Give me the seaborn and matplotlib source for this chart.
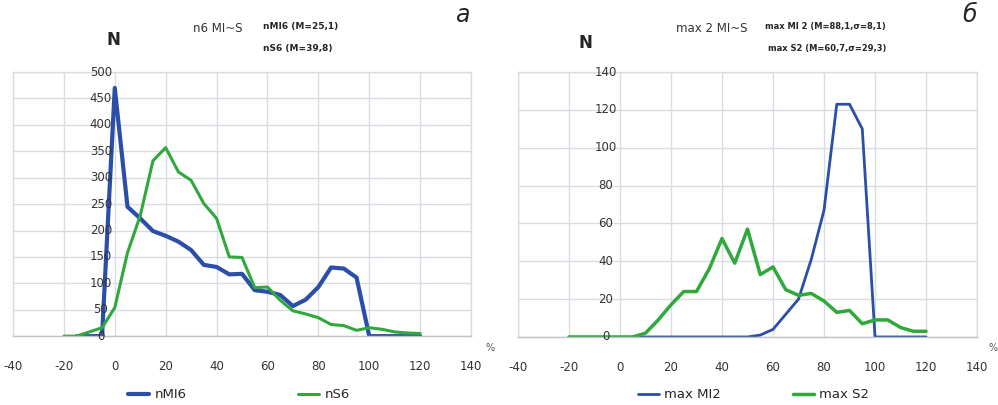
import numpy as np
import pandas as pd
import seaborn as sns
import matplotlib.pyplot as plt

# x values (%), step 5
x_a = list(range(-20, 125, 5))
x_b = list(range(-20, 125, 5))

# panel a
nmi6_x = list(range(-15, 125, 5))
nmi6 = [0, 0, 0, 470, 245, 223, 199, 190, 179, 163, 135, 131, 117, 118, 87, 84, 78, 57,
        69, 93, 130, 128, 111, 0, 0, 0, 0, 0]
ns6 = [0, 0, 8, 16, 54, 158, 228, 332, 357, 311, 295, 251, 223, 150, 149, 92, 93, 68,
       48, 42, 35, 22, 20, 11, 16, 13, 8, 6, 5]

# panel b
maxmi2_x = list(range(5, 125, 5))
maxmi2 = [0, 0, 0, 0, 0, 0, 0, 0, 0, 0, 1, 4, 12, 20, 41, 67, 123, 123, 110, 0, 0, 0, 0, 0]
maxs2 = [0, 0, 0, 0, 0, 0, 2, 9, 17, 24, 24, 36, 52, 39, 57, 33, 37, 25, 22, 23, 19, 13,
         14, 7, 9, 9, 5, 3, 3]

blue = '#2b4ea8'
green = '#2fa83c'

sns.set_theme(style='white')
plt.rcParams['font.family'] = ['DejaVu Sans']
plt.rcParams['axes.unicode_minus'] = False

fig = plt.figure(figsize=(9.98, 4.05), dpi=100)
ax1 = fig.add_axes([0.013, 0.170, 0.459, 0.652])
ax2 = fig.add_axes([0.519, 0.168, 0.460, 0.654])


def style_axis(ax, ymax, ystep):
    ax.set_xlim(-40, 140)
    ax.set_ylim(0, ymax)
    ax.set_xticks(range(-40, 141, 20))
    ax.set_yticks(range(0, ymax + 1, ystep))
    ax.set_yticklabels([])
    ax.grid(True, color='#d9dde2', linewidth=1.0)
    for s in ax.spines.values():
        s.set_color('#d9dde2')
        s.set_linewidth(1.0)
    ax.spines['bottom'].set_color('#bfc3c8')
    ax.tick_params(axis='x', length=0, pad=17, labelsize=8.5, colors='#333333')
    ax.tick_params(axis='y', length=0)
    ax.set_xlabel('')
    ax.set_ylabel('')
    for v in range(0, ymax + 1, ystep):
        ax.text(-5.5, v, str(v), ha='center', va='center', fontsize=8.5,
                color='#333333')


sns.lineplot(x=nmi6_x, y=nmi6, ax=ax1, color=blue, linewidth=3.0, label='nMI6')
sns.lineplot(x=x_a, y=ns6, ax=ax1, color=green, linewidth=2.2, label='nS6')
style_axis(ax1, 500, 50)
ax1.legend_.remove()

sns.lineplot(x=maxmi2_x, y=maxmi2, ax=ax2, color=blue, linewidth=2.0, label='max MI2')
sns.lineplot(x=x_b, y=maxs2, ax=ax2, color=green, linewidth=2.5, label='max S2')
style_axis(ax2, 140, 20)
ax2.legend_.remove()

# legend entries below each panel, one per series
for ax, xs in ((ax1, (128, 298)), (ax2, (638, 793))):
    handles, labels = ax.get_legend_handles_labels()
    for h, l, xp in zip(handles, labels, xs):
        fig.legend([h], [l], loc='center left', bbox_to_anchor=(xp / 998 - 0.012, 0.025),
                   frameon=False, fontsize=9.5, handlelength=1.6, handletextpad=0.4)

# headers
fig.text(113 / 998, 1 - 40 / 405, 'N', fontsize=12, fontweight='bold', ha='center', va='center')
fig.text(218 / 998, 1 - 29 / 405, 'n6 MI~S', fontsize=8.5, ha='center', va='center', color='#333333')
fig.text(263 / 998, 1 - 27 / 405, 'nMI6 (M=25,1)', fontsize=6.5, fontweight='bold', ha='left', va='center')
fig.text(263 / 998, 1 - 48 / 405, 'nS6 (M=39,8)', fontsize=6.5, fontweight='bold', ha='left', va='center')
fig.text(462 / 998, 1 - 15 / 405, 'а', fontsize=17, style='italic', ha='center', va='center')
fig.text(490 / 998, 1 - 348 / 405, '%', fontsize=7, ha='center', va='center', color='#555555')

fig.text(585 / 998, 1 - 43 / 405, 'N', fontsize=12, fontweight='bold', ha='center', va='center')
fig.text(712 / 998, 1 - 29 / 405, 'max 2 MI~S', fontsize=8.5, ha='center', va='center', color='#333333')
fig.text(765 / 998, 1 - 27 / 405, 'max MI 2 (M=88,1,σ=8,1)', fontsize=6, fontweight='bold', ha='left', va='center')
fig.text(768 / 998, 1 - 48 / 405, 'max S2 (M=60,7,σ=29,3)', fontsize=6, fontweight='bold', ha='left', va='center')
fig.text(970 / 998, 1 - 15 / 405, 'б', fontsize=17, style='italic', ha='center', va='center')
fig.text(993 / 998, 1 - 348 / 405, '%', fontsize=7, ha='center', va='center', color='#555555')

fig.savefig('out.png', dpi=100)
